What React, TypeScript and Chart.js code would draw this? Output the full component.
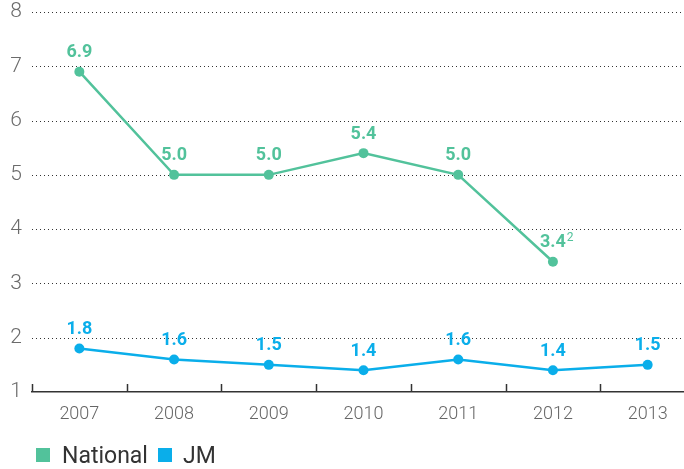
import React, { useEffect, useRef } from "react";
import { Chart, registerables } from "chart.js";

Chart.register(...registerables);

const years = ["2007", "2008", "2009", "2010", "2011", "2012", "2013"];
const nationalValues: (number | null)[] = [6.9, 5.0, 5.0, 5.4, 5.0, 3.4, null];
const nationalNotes = ["", "", "", "", "", "2", ""];
const jmValues = [1.8, 1.6, 1.5, 1.4, 1.6, 1.4, 1.5];
const jmNotes = ["", "", "", "", "", "", ""];
const seriesNames = ["National", "JM"];
const GREEN = "#52c29b";
const BLUE = "#0aaeea";
const seriesColors = [GREEN, BLUE];
const FONT = "Roboto, 'Liberation Sans', sans-serif";
const W = 700;
const H = 469;

const decorPlugin = {
  id: "decor",
  beforeDatasetsDraw(chart: any) {
    const ctx = chart.ctx;
    const y = chart.scales.y;
    const area = chart.chartArea;
    ctx.save();
    ctx.fillStyle = "#333";
    y.ticks.forEach((t: any) => {
      if (t.value === y.min) return;
      const py = Math.round(y.getPixelForValue(t.value));
      for (let px = Math.round(area.left); px < area.right; px += 4) {
        ctx.fillRect(px, py, 1, 1);
      }
    });
    ctx.restore();
  },
  afterDatasetsDraw(chart: any) {
    const ctx = chart.ctx;
    const x = chart.scales.x;
    const area = chart.chartArea;
    ctx.save();
    ctx.strokeStyle = "#333";
    ctx.lineWidth = 1.5;
    const n = years.length;
    const w = (area.right - area.left) / n;
    for (let i = 0; i <= n; i++) {
      const px = Math.round(x.getPixelForValue(0) - w / 2 + i * w) + 0.5;
      ctx.beginPath();
      ctx.moveTo(px, area.bottom);
      ctx.lineTo(px, area.bottom - 8);
      ctx.stroke();
    }
    const notes = [nationalNotes, jmNotes];
    chart.data.datasets.forEach((ds: any, di: number) => {
      const meta = chart.getDatasetMeta(di);
      meta.data.forEach((pt: any, i: number) => {
        const v = ds.data[i];
        if (v === null || v === undefined) return;
        const txt = Number(v).toFixed(1);
        ctx.fillStyle = ds.borderColor;
        ctx.font = `bold 18px ${FONT}`;
        ctx.textAlign = "center";
        ctx.textBaseline = "middle";
        const ly = pt.y - 19;
        ctx.fillText(txt, pt.x, ly);
        const note = notes[di][i];
        if (note) {
          const tw = ctx.measureText(txt).width;
          ctx.font = `12px ${FONT}`;
          ctx.textAlign = "left";
          ctx.fillText(note, pt.x + tw / 2 + 1, ly - 5);
        }
      });
    });
    ctx.restore();
  },
};

export default function App() {
  const ref = useRef<HTMLCanvasElement | null>(null);
  useEffect(() => {
    if (!ref.current) return;
    const chart = new Chart(ref.current, {
      type: "line",
      data: {
        labels: years,
        datasets: [
          {
            label: seriesNames[0],
            data: nationalValues,
            borderColor: GREEN,
            backgroundColor: GREEN,
            borderWidth: 2.5,
            pointRadius: 5,
            pointBackgroundColor: GREEN,
            pointBorderWidth: 0,
            spanGaps: false,
          },
          {
            label: seriesNames[1],
            data: jmValues,
            borderColor: BLUE,
            backgroundColor: BLUE,
            borderWidth: 2.5,
            pointRadius: 5,
            pointBackgroundColor: BLUE,
            pointBorderWidth: 0,
          },
        ],
      },
      options: {
        animation: false,
        responsive: false,
        maintainAspectRatio: false,
        layout: { padding: { top: 12, right: 0, left: 0, bottom: 41 } },
        plugins: {
          legend: { display: false },
          tooltip: { enabled: false },
        },
        scales: {
          x: {
            offset: true,
            afterFit: (s: any) => {
              s.height = 36;
              s.paddingLeft = 0;
              s.paddingRight = 0;
            },
            grid: { display: false, drawTicks: false },
            border: { display: true, color: "#333", width: 1.5 },
            ticks: {
              color: "#666",
              font: { size: 18, family: FONT, weight: "300" },
              padding: 12,
            },
          },
          y: {
            min: 1,
            max: 8,
            afterFit: (s: any) => {
              s.width = 32;
              s.paddingTop = 0;
              s.paddingBottom = 0;
            },
            border: { display: false },
            grid: { display: false, drawTicks: false },
            ticks: {
              stepSize: 1,
              color: "#6b6b6b",
              padding: 10,
              font: { size: 21, family: FONT, weight: "300" },
            },
          },
        },
      },
      plugins: [decorPlugin],
    } as any);
    return () => chart.destroy();
  }, []);
  const legendPos = [
    { box: 36, text: 62 },
    { box: 158, text: 183 },
  ];
  return (
    <div style={{ position: "fixed", left: 0, top: 0, width: W, height: H }}>
      <canvas ref={ref} width={W} height={H} style={{ width: W, height: H }} />
      {seriesNames.map((name, i) => (
        <React.Fragment key={name}>
          <span
            style={{
              position: "absolute",
              left: legendPos[i].box,
              top: 448,
              width: 14,
              height: 14,
              background: seriesColors[i],
            }}
          />
          <span
            style={{
              position: "absolute",
              left: legendPos[i].text,
              top: 442,
              lineHeight: "28px",
              fontSize: 23,
              fontFamily: FONT,
              color: "#333",
              whiteSpace: "nowrap",
            }}
          >
            {name}
          </span>
        </React.Fragment>
      ))}
    </div>
  );
}
